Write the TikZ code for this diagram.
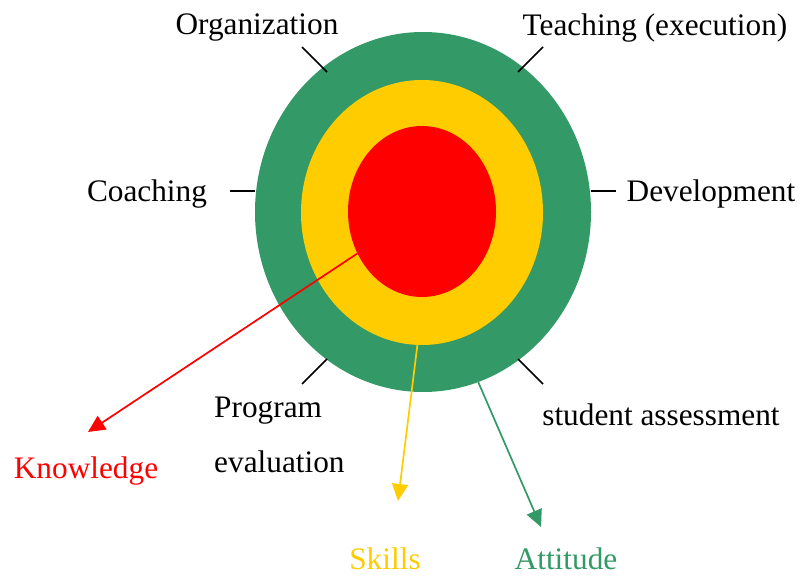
\documentclass[tikz,border=0pt]{standalone}
\usepackage{fontspec}
\setmainfont{Liberation Serif}
\usepackage{xcolor}
\usetikzlibrary{shapes.geometric,arrows.meta}
\definecolor{ringgreen}{RGB}{51,153,102}
\definecolor{ringyellow}{RGB}{255,204,0}
\definecolor{ringred}{RGB}{255,0,0}

\begin{document}
\begin{tikzpicture}[x=1pt,y=-1pt,
    every node/.style={font=\fontsize{31.3}{55}\selectfont},
    ring/.style={ellipse,draw=none,inner sep=0pt},
    tick/.style={line width=1.6pt,black},
    pointer/.style={line width=1.7pt,-{Triangle[width=16pt,length=17pt]}}]
    \useasboundingbox (0,0) rectangle (802,577);
    % rings
    \node[ring,fill=ringgreen,minimum width=336pt,minimum height=360pt] (Outer) at (423,212) {};
    \node[ring,fill=ringyellow,minimum width=242pt,minimum height=265pt] (Middle) at (422,212.5) {};
    \node[ring,fill=ringred,minimum width=148pt,minimum height=171pt] (Inner) at (422,211.5) {};
    % aspects round the rings
    \node (Org) at (257,28) {Organization};
    \node (Teach) at (655,28) {Teaching (execution)};
    \node (Coach) at (147,194) {Coaching};
    \node (Dev) at (711,194) {Development};
    \node[anchor=north west,align=left,inner sep=0pt] (Eval) at (214,397) {Program\\evaluation};
    \node (Assess) at (661,415) {student assessment};
    \foreach \xa/\ya/\xb/\yb in {302/47/327/72,543/47/518/72,230/191/255/191,
                                 616/191/591/191,302/384/327/359,543/384/518/359}
      \draw[tick] (\xa,\ya) -- (\xb,\yb);
    % outcomes
    \node[text=ringred] (Know) at (86,471) {Knowledge};
    \node[text=ringyellow] (Skill) at (385,559) {Skills};
    \node[text=ringgreen,inner sep=0pt] (Att) at (566,559) {Attitude};
    \coordinate (KnowTip) at (88,432);
    \coordinate (SkillTip) at (398,501);
    \coordinate (AttTip) at (541,527);
    \draw[pointer,ringred] (Inner.213) -- (KnowTip);
    \draw[pointer,ringyellow] (Middle.268) -- (SkillTip);
    \draw[pointer,ringgreen] (Outer.288) -- (AttTip);
\end{tikzpicture}
\end{document}
